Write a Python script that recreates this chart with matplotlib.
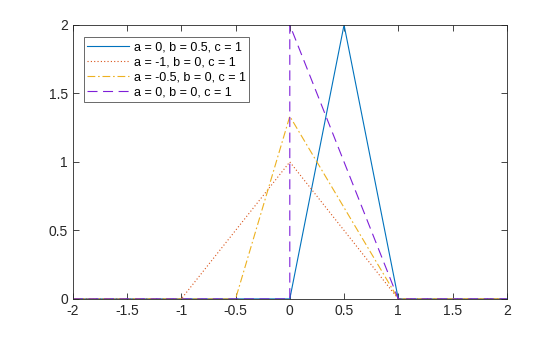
import numpy as np
import matplotlib.pyplot as plt

plt.rcParams['font.family'] = ['Liberation Sans', 'DejaVu Sans']

# triangular pdf, breakpoints
x1 = [-2, 0, 0.5, 1, 2]
y1 = [0, 0, 2, 0, 0]
x2 = [-2, -1, 0, 1, 2]
y2 = [0, 0, 1, 0, 0]
x3 = [-2, -0.5, 0, 1, 2]
y3 = [0, 0, 1.3333, 0, 0]
x4 = [-2, 0, 0, 1, 2]
y4 = [0, 0, 2, 0, 0]
labels = ['a = 0, b = 0.5, c = 1', 'a = -1, b = 0, c = 1',
          'a = -0.5, b = 0, c = 1', 'a = 0, b = 0, c = 1']

fig = plt.figure(figsize=(5.6, 3.37), dpi=100)
ax = fig.add_axes([0.13, 0.113, 0.775, 0.813])

lw = 0.8
ax.plot(x1, y1, color='#0072BD', lw=lw, label=labels[0])
ax.plot(x2, y2, color='#D95319', lw=lw, linestyle=(0, (1, 2)), label=labels[1])
ax.plot(x3, y3, color='#EDB120', lw=lw, linestyle=(0, (7, 2.5, 1.5, 2.5)), label=labels[2])
ax.plot(x4, y4, color='#7E1FD8', lw=lw, linestyle=(0, (9, 5)), label=labels[3])

ax.set_xlim(-2, 2)
ax.set_ylim(0, 2)
ax.set_xticks(np.arange(-2, 2.01, 0.5))
ax.set_yticks(np.arange(0, 2.01, 0.5))
ax.set_xticklabels(['-2', '-1.5', '-1', '-0.5', '0', '0.5', '1', '1.5', '2'])
ax.set_yticklabels(['0', '0.5', '1', '1.5', '2'])
ax.tick_params(direction='in', length=4, width=0.6, labelsize=10, colors='#262626',
               top=True, right=True)
for s in ax.spines.values():
    s.set_linewidth(0.6)
    s.set_color('#262626')

leg = ax.legend(loc='upper left', bbox_to_anchor=(0.025, 0.955), fontsize=9,
                frameon=True, fancybox=False, edgecolor='#262626',
                handlelength=3.3, handletextpad=0.4, borderpad=0.3,
                labelspacing=0.25, borderaxespad=0)
leg.get_frame().set_linewidth(0.6)

fig.savefig('out.png', dpi=100)
